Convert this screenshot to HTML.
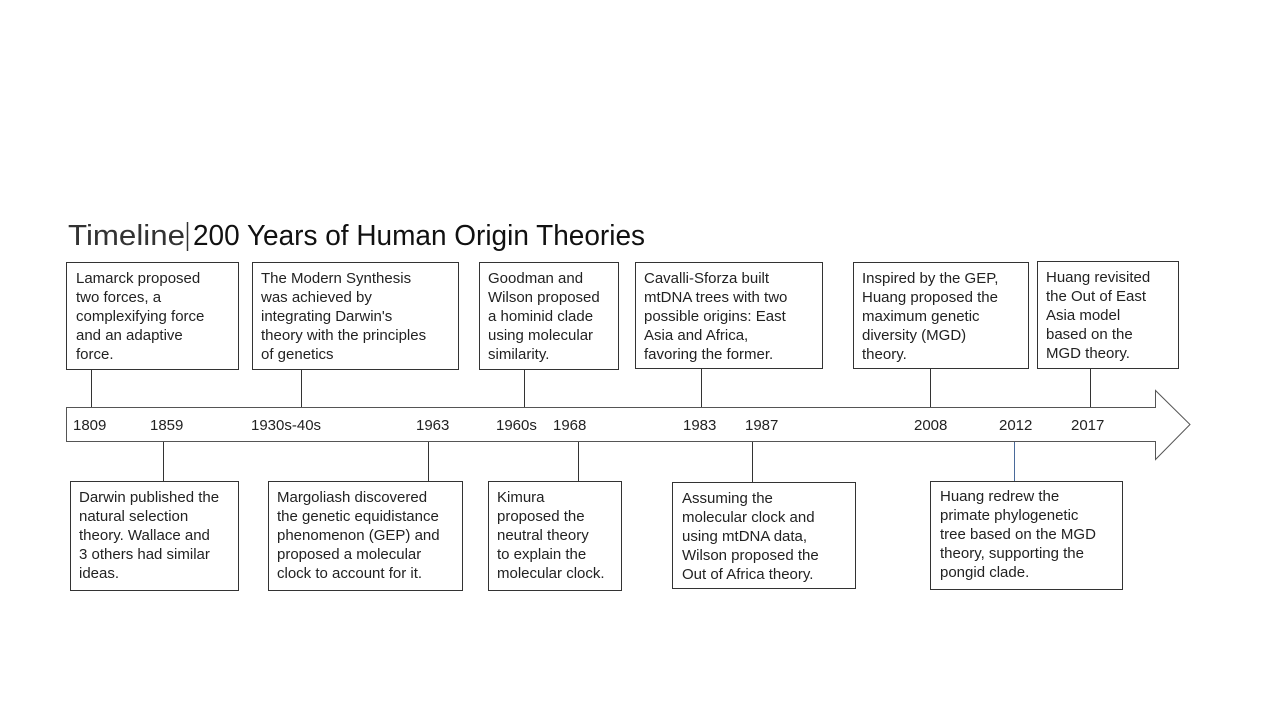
<!DOCTYPE html>
<html><head><meta charset="utf-8"><style>
html,body{margin:0;padding:0;background:#fff;}
svg{display:block;}
text{font-family:"Liberation Sans",Arial,sans-serif;font-size:15px;fill:#222;}
</style></head><body>
<svg width="1280" height="720" viewBox="0 0 1280 720" xmlns="http://www.w3.org/2000/svg">
<text x="68" y="245" style="font-size:29px;fill:#333" textLength="117" lengthAdjust="spacingAndGlyphs">Timeline</text>
<line x1="187.5" y1="222" x2="187.5" y2="251" stroke="#333" stroke-width="1.5"/>
<text x="193" y="245" style="font-size:29px;fill:#111" textLength="452" lengthAdjust="spacingAndGlyphs">200 Years of Human Origin Theories</text>
<polygon points="66.5,407.5 1155.5,407.5 1155.5,390.5 1190,424.5 1155.5,459.5 1155.5,441.5 66.5,441.5" fill="#fff" stroke="#555" stroke-width="1"/>
<g stroke="#333" stroke-width="1" fill="#fff">
<rect x="66.5" y="262.5" width="172" height="107"/>
<rect x="252.5" y="262.5" width="206" height="107"/>
<rect x="479.5" y="262.5" width="139" height="107"/>
<rect x="635.5" y="262.5" width="187" height="106"/>
<rect x="853.5" y="262.5" width="175" height="106"/>
<rect x="1037.5" y="261.5" width="141" height="107"/>
<rect x="70.5" y="481.5" width="168" height="109"/>
<rect x="268.5" y="481.5" width="194" height="109"/>
<rect x="488.5" y="481.5" width="133" height="109"/>
<rect x="672.5" y="482.5" width="183" height="106"/>
<rect x="930.5" y="481.5" width="192" height="108"/>
<line x1="91.5" y1="369" x2="91.5" y2="407"/>
<line x1="301.5" y1="369" x2="301.5" y2="407"/>
<line x1="524.5" y1="369" x2="524.5" y2="407"/>
<line x1="701.5" y1="368" x2="701.5" y2="407"/>
<line x1="930.5" y1="368" x2="930.5" y2="407"/>
<line x1="1090.5" y1="368" x2="1090.5" y2="407"/>
<line x1="163.5" y1="442" x2="163.5" y2="481"/>
<line x1="428.5" y1="442" x2="428.5" y2="481"/>
<line x1="578.5" y1="442" x2="578.5" y2="481"/>
<line x1="752.5" y1="442" x2="752.5" y2="482"/>
<line x1="1014.5" y1="442" x2="1014.5" y2="481" stroke="#4a6a9a"/>
</g>
<g>
<text x="73" y="430">1809</text><text x="150" y="430">1859</text><text x="251" y="430">1930s-40s</text>
<text x="416" y="430">1963</text><text x="496" y="430">1960s</text><text x="553" y="430">1968</text>
<text x="683" y="430">1983</text><text x="745" y="430">1987</text><text x="914" y="430">2008</text>
<text x="999" y="430">2012</text><text x="1071" y="430">2017</text>
</g>
<text x="76" y="283"><tspan x="76">Lamarck proposed</tspan><tspan x="76" dy="19">two forces, a</tspan><tspan x="76" dy="19">complexifying force</tspan><tspan x="76" dy="19">and an adaptive</tspan><tspan x="76" dy="19">force.</tspan></text>
<text x="261" y="283"><tspan x="261">The Modern Synthesis</tspan><tspan x="261" dy="19">was achieved by</tspan><tspan x="261" dy="19">integrating Darwin's</tspan><tspan x="261" dy="19">theory with the principles</tspan><tspan x="261" dy="19">of genetics</tspan></text>
<text x="488" y="283"><tspan x="488">Goodman and</tspan><tspan x="488" dy="19">Wilson proposed</tspan><tspan x="488" dy="19">a hominid clade</tspan><tspan x="488" dy="19">using molecular</tspan><tspan x="488" dy="19">similarity.</tspan></text>
<text x="644" y="283"><tspan x="644">Cavalli-Sforza built</tspan><tspan x="644" dy="19">mtDNA trees with two</tspan><tspan x="644" dy="19">possible origins: East</tspan><tspan x="644" dy="19">Asia and Africa,</tspan><tspan x="644" dy="19">favoring the former.</tspan></text>
<text x="862" y="283"><tspan x="862">Inspired by the GEP,</tspan><tspan x="862" dy="19">Huang proposed the</tspan><tspan x="862" dy="19">maximum genetic</tspan><tspan x="862" dy="19">diversity (MGD)</tspan><tspan x="862" dy="19">theory.</tspan></text>
<text x="1046" y="282"><tspan x="1046">Huang revisited</tspan><tspan x="1046" dy="19">the Out of East</tspan><tspan x="1046" dy="19">Asia model</tspan><tspan x="1046" dy="19">based on the</tspan><tspan x="1046" dy="19">MGD theory.</tspan></text>
<text x="79" y="502"><tspan x="79">Darwin published the</tspan><tspan x="79" dy="19">natural selection</tspan><tspan x="79" dy="19">theory. Wallace and</tspan><tspan x="79" dy="19">3 others had similar</tspan><tspan x="79" dy="19">ideas.</tspan></text>
<text x="277" y="502"><tspan x="277">Margoliash discovered</tspan><tspan x="277" dy="19">the genetic equidistance</tspan><tspan x="277" dy="19">phenomenon (GEP) and</tspan><tspan x="277" dy="19">proposed a molecular</tspan><tspan x="277" dy="19">clock to account for it.</tspan></text>
<text x="497" y="502"><tspan x="497">Kimura</tspan><tspan x="497" dy="19">proposed the</tspan><tspan x="497" dy="19">neutral theory</tspan><tspan x="497" dy="19">to explain the</tspan><tspan x="497" dy="19">molecular clock.</tspan></text>
<text x="682" y="503"><tspan x="682">Assuming the</tspan><tspan x="682" dy="19">molecular clock and</tspan><tspan x="682" dy="19">using mtDNA data,</tspan><tspan x="682" dy="19">Wilson proposed the</tspan><tspan x="682" dy="19">Out of Africa theory.</tspan></text>
<text x="940" y="501"><tspan x="940">Huang redrew the</tspan><tspan x="940" dy="19">primate phylogenetic</tspan><tspan x="940" dy="19">tree based on the MGD</tspan><tspan x="940" dy="19">theory, supporting the</tspan><tspan x="940" dy="19">pongid clade.</tspan></text>
</svg>
</body></html>
